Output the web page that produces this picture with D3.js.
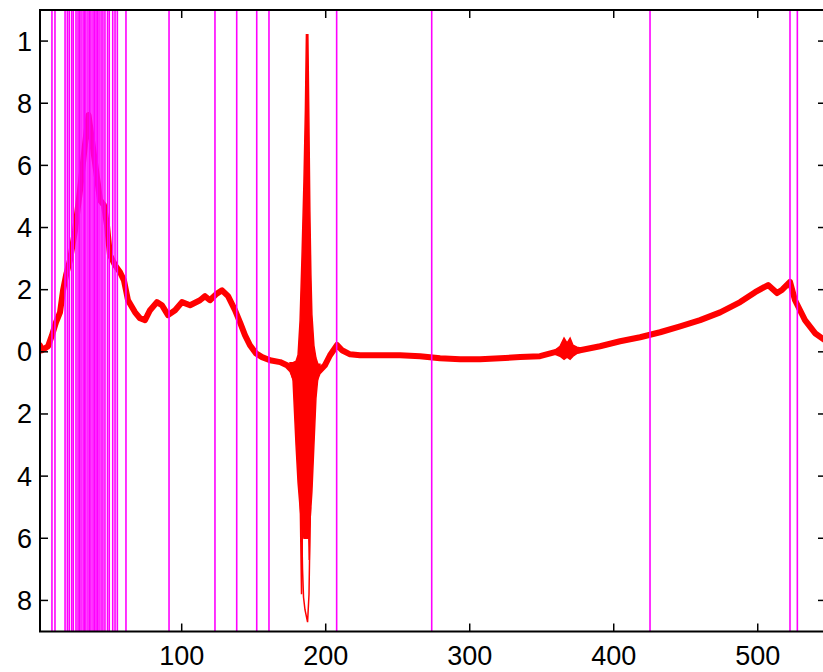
<!DOCTYPE html>
<html>
<head>
<meta charset="utf-8">
<script src="https://cdn.jsdelivr.net/npm/d3@7"></script>
<style>
  html, body { margin: 0; padding: 0; background: #fff; }
  text { font-family: "Liberation Sans", Arial, Helvetica, sans-serif; }
</style>
</head>
<body>
<div id="chart"></div>
<script>
// spectra bundle, centre of the band
var specX = [1.6, 3.0, 7.2, 9.9, 12.7, 15.5, 17.6, 19.7, 22.4, 25.9, 29.4, 32.8, 35.3, 37.7, 40.5, 43.3, 46.0, 48.1,
  50.2, 53.7, 57.2, 59.9, 62.7, 67.6, 71.0, 74.5, 78.0, 82.8, 86.3, 90.5, 95.4, 100.2, 105.8, 112.7, 116.2, 119.6,
  123.8, 128.0, 132.2, 137.0, 140.5, 144.0, 147.4, 151.6, 155.8, 161.3, 168.3, 173.1, 176.6, 180.0, 185.0, 190.0,
  194.7, 199.5, 203.0, 207.9, 211.3, 216.9, 223.8, 237.7, 251.6, 265.5, 279.4, 293.3, 307.2, 321.1, 335.0, 348.8,
  359.2, 366.2, 371.0, 376.6, 390.5, 404.4, 418.3, 432.2, 446.1, 460.0, 473.9, 487.8, 498.2, 507.2, 513.4, 517.0,
  522.4, 525.9, 532.8, 539.8, 547.4];
var specY = [0.021, 0.005, 0.018, 0.053, 0.095, 0.127, 0.198, 0.247, 0.295, 0.39, 0.52, 0.665, 0.762, 0.68, 0.585,
  0.488, 0.472, 0.408, 0.311, 0.279, 0.256, 0.23, 0.166, 0.127, 0.108, 0.102, 0.134, 0.16, 0.15, 0.118, 0.134, 0.16,
  0.15, 0.166, 0.179, 0.166, 0.185, 0.198, 0.179, 0.134, 0.095, 0.053, 0.021, -0.005, -0.017, -0.027, -0.033, -0.043,
  -0.06, -0.1, -0.1, -0.12, -0.066, -0.043, -0.011, 0.022, 0.005, -0.008, -0.011, -0.011, -0.011, -0.014, -0.021,
  -0.024, -0.024, -0.021, -0.017, -0.014, -0.001, 0.008, 0.002, 0.005, 0.018, 0.034, 0.047, 0.063, 0.082, 0.102,
  0.127, 0.16, 0.192, 0.215, 0.189, 0.2, 0.225, 0.166, 0.102, 0.06, 0.035];

// spread of the bundle around the big spike
var spikeX = [175.2, 177.3, 179.4, 180.8, 182.2, 183.5, 184.9, 185.9, 186.6, 187.6, 188.3, 189.0, 189.7, 190.4, 191.8, 193.2, 194.6, 196.0];
var spikeHi = [-0.035, -0.035, -0.03, -0.01, 0.1, 0.3, 0.55, 0.78, 1.02, 1.02, 0.75, 0.45, 0.25, 0.12, 0.02, -0.02, -0.04, -0.04];
var spikeLo = [-0.055, -0.09, -0.3, -0.42, -0.5, -0.56, -0.6, -0.6, -0.6, -0.6, -0.58, -0.55, -0.5, -0.45, -0.3, -0.15, -0.08, -0.06];

// single traces that dip below the bundle
var dipLoopX = [182.9, 183.9, 184.6, 185.6, 187.4, 188.4, 189.0, 189.4];
var dipLoopY = [-0.45, -0.7, -0.79, -0.83, -0.87, -0.78, -0.6, -0.5];
var dipBX = [182.2, 183.2, 183.9];
var dipBY = [-0.45, -0.78, -0.55];
var dipCX = [188.0, 188.6, 189.1];
var dipCY = [-0.55, -0.67, -0.5];

// small bump near 370
var bumpX = [359.2, 362.7, 365.5, 367.6, 369.7, 371.7, 374.5, 377.3];
var bumpHi = [0.005, 0.018, 0.044, 0.028, 0.044, 0.021, 0.015, 0.012];
var bumpLo = [-0.008, -0.014, -0.024, -0.017, -0.024, -0.014, -0.005, -0.001];

// selected positions (magenta markers)
var markX = [9.9, 12.0, 19.0, 20.6, 21.9, 23.6, 24.7, 26.6, 28.0, 29.0, 30.1, 31.5, 32.5, 33.5, 34.9, 36.0, 37.0,
  38.4, 39.4, 40.5, 41.5, 42.6, 44.0, 45.3, 46.7, 48.5, 49.7, 52.1, 53.7, 55.3, 61.3, 91.2, 123.1, 138.2, 152.1,
  160.6, 207.6, 273.6, 425.2, 522.4, 527.5];

var xTicks = [100, 200, 300, 400, 500];
var yTicks = [1, 0.8, 0.6, 0.4, 0.2, 0, -0.2, -0.4, -0.6, -0.8];
var yTickLabels = ["1", "8", "6", "4", "2", "0", "2", "4", "6", "8"];

var W = 823, H = 672;
var pLeft = 40, pRight = 826, pTop = 10, pBottom = 631.5;

var svg = d3.select("#chart").append("svg")
    .attr("width", W).attr("height", H)
    .style("display", "block");

svg.append("rect").attr("width", W).attr("height", H).attr("fill", "#fff");

var x = d3.scaleLinear().domain([1.6, 547.4]).range([pLeft, pRight]);
var y = d3.scaleLinear().domain([-0.9, 1.1]).range([pBottom, pTop]);

svg.append("defs").append("clipPath").attr("id", "plotclip")
    .append("rect").attr("x", pLeft).attr("y", pTop)
    .attr("width", pRight - pLeft).attr("height", pBottom - pTop);

var plot = svg.append("g").attr("clip-path", "url(#plotclip)");

var line = d3.line().x(function (d) { return x(d[0]); }).y(function (d) { return y(d[1]); });
var band = d3.area()
    .x(function (d) { return x(d[0]); })
    .y0(function (d) { return y(d[2]); })
    .y1(function (d) { return y(d[1]); });

function zip2(a, b) { return a.map(function (v, i) { return [v, b[i]]; }); }
function zip3(a, b, c) { return a.map(function (v, i) { return [v, b[i], c[i]]; }); }

var red = "#ff0000";

plot.append("path").datum(zip2(specX, specY))
    .attr("d", line).attr("fill", "none").attr("stroke", red)
    .attr("stroke-width", 6).attr("stroke-linejoin", "round").attr("stroke-linecap", "round");

[zip3(spikeX, spikeHi, spikeLo), zip3(bumpX, bumpHi, bumpLo)].forEach(function (d) {
    plot.append("path").datum(d).attr("d", band)
        .attr("fill", red).attr("stroke", red).attr("stroke-width", 1.5);
});

[zip2(dipLoopX, dipLoopY), zip2(dipBX, dipBY), zip2(dipCX, dipCY)].forEach(function (d) {
    plot.append("path").datum(d).attr("d", line)
        .attr("fill", "none").attr("stroke", red).attr("stroke-width", 1.5);
});

plot.selectAll("line.mark").data(markX).enter().append("line")
    .attr("class", "mark")
    .attr("x1", function (d) { return x(d); }).attr("x2", function (d) { return x(d); })
    .attr("y1", pTop).attr("y2", pBottom)
    .attr("stroke", "#ff00ff").attr("stroke-width", 1.6);

// frame
var ax = svg.append("g").attr("stroke", "#000").attr("stroke-width", 2).attr("fill", "none");
ax.append("path").attr("d", "M" + pRight + "," + pTop + "H" + pLeft + "V" + pBottom + "H" + pRight);

var tl = 8;
xTicks.forEach(function (t) {
    ax.append("line").attr("x1", x(t)).attr("x2", x(t)).attr("y1", pBottom).attr("y2", pBottom - tl).attr("stroke-width", 1.5);
    ax.append("line").attr("x1", x(t)).attr("x2", x(t)).attr("y1", pTop).attr("y2", pTop + tl).attr("stroke-width", 1.5);
});
yTicks.forEach(function (t) {
    ax.append("line").attr("x1", pLeft).attr("x2", pLeft + tl).attr("y1", y(t)).attr("y2", y(t)).attr("stroke-width", 1.5);
    ax.append("line").attr("x1", pRight).attr("x2", pRight - tl).attr("y1", y(t)).attr("y2", y(t)).attr("stroke-width", 1.5);
});

svg.append("g").selectAll("text").data(xTicks).enter().append("text")
    .attr("x", function (d) { return x(d); }).attr("y", 665)
    .attr("text-anchor", "middle").attr("font-size", 27).attr("fill", "#000")
    .text(function (d) { return d; });

svg.append("g").selectAll("text").data(yTicks).enter().append("text")
    .attr("x", 32).attr("y", function (d) { return y(d) + 9.5; })
    .attr("text-anchor", "end").attr("font-size", 27).attr("fill", "#000")
    .text(function (d, i) { return yTickLabels[i]; });
</script>
</body>
</html>
